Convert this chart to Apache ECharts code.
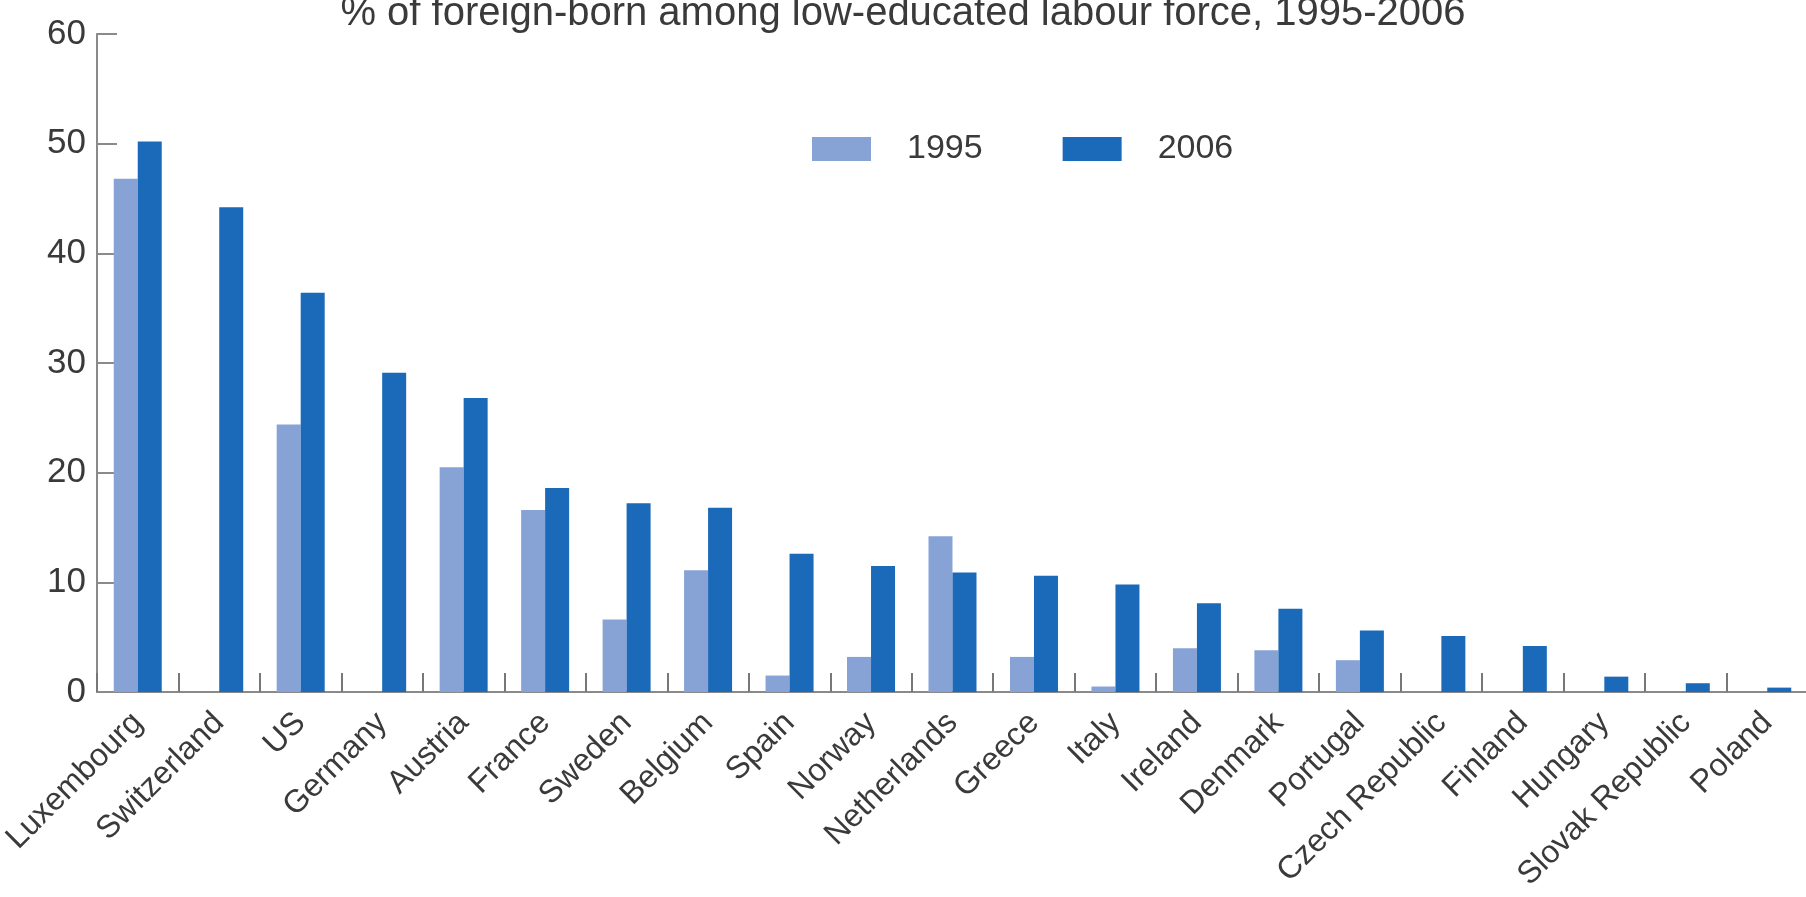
<!DOCTYPE html>
<html>
<head>
<meta charset="utf-8">
<script src="https://cdn.jsdelivr.net/npm/echarts@6/dist/echarts.min.js"></script>
<style>
  html, body { margin: 0; padding: 0; background: #fff; }
  #chart { width: 1806px; height: 897px; }
</style>
</head>
<body>
<div id="chart"></div>
<script>
const titleText = '% of foreign-born among low-educated labour force, 1995-2006';
const countries = ['Luxembourg', 'Switzerland', 'US', 'Germany', 'Austria', 'France', 'Sweden', 'Belgium', 'Spain', 'Norway', 'Netherlands', 'Greece', 'Italy', 'Ireland', 'Denmark', 'Portugal', 'Czech Republic', 'Finland', 'Hungary', 'Slovak Republic', 'Poland'];
const seriesNames = ['1995', '2006'];
const values1995 = [46.8, null, 24.4, null, 20.5, 16.6, 6.6, 11.1, 1.5, 3.2, 14.2, 3.2, 0.5, 4.0, 3.8, 2.9, null, null, null, null, null];
const values2006 = [50.2, 44.2, 36.4, 29.1, 26.8, 18.6, 17.2, 16.8, 12.6, 11.5, 10.9, 10.6, 9.8, 8.1, 7.6, 5.6, 5.1, 4.2, 1.4, 0.8, 0.4];
const yTicks = { min: 0, max: 60, interval: 10 };

const FONT = "'Liberation Sans', Arial, sans-serif";
const chart = echarts.init(document.getElementById('chart'));
chart.setOption({
  animation: false,
  backgroundColor: '#ffffff',
  title: {
    text: titleText,
    left: 'center',
    top: -11,
    textStyle: { fontFamily: FONT, fontSize: 40, fontWeight: 'normal', color: '#3a3a3a' }
  },
  legend: {
    left: 807,
    top: 127,
    itemWidth: 59,
    itemHeight: 24,
    itemGap: 80,
    icon: 'rect',
    textStyle: { fontFamily: FONT, fontSize: 34, color: '#3a3a3a', padding: [0, 0, 0, 31] },
    data: seriesNames
  },
  grid: { left: 97, top: 34, width: 1711, height: 658, containLabel: false, outerBoundsMode: 'none' },
  xAxis: {
    type: 'category',
    data: countries,
    axisLine: { lineStyle: { color: '#8a8a8a', width: 2 } },
    axisTick: { show: true, inside: true, length: 19, alignWithLabel: false, lineStyle: { color: '#777', width: 2 } },
    axisLabel: { rotate: 45, margin: 26, interval: 0, fontFamily: FONT, fontSize: 32, color: '#3a3a3a' }
  },
  yAxis: {
    type: 'value',
    min: yTicks.min, max: yTicks.max, interval: yTicks.interval,
    splitLine: { show: false },
    axisLine: { show: true, lineStyle: { color: '#8a8a8a', width: 2 } },
    axisTick: { show: true, inside: true, length: 20, lineStyle: { color: '#8a8a8a', width: 2 } },
    axisLabel: { margin: 11, fontFamily: FONT, fontSize: 35, color: '#3a3a3a' }
  },
  series: [
    { name: seriesNames[0], type: 'bar', data: values1995, barWidth: 24, barGap: '0%', itemStyle: { color: '#87a3d6' } },
    { name: seriesNames[1], type: 'bar', data: values2006, barWidth: 24, barGap: '0%', itemStyle: { color: '#1b6ab9' } }
  ]
});
</script>
</body>
</html>
